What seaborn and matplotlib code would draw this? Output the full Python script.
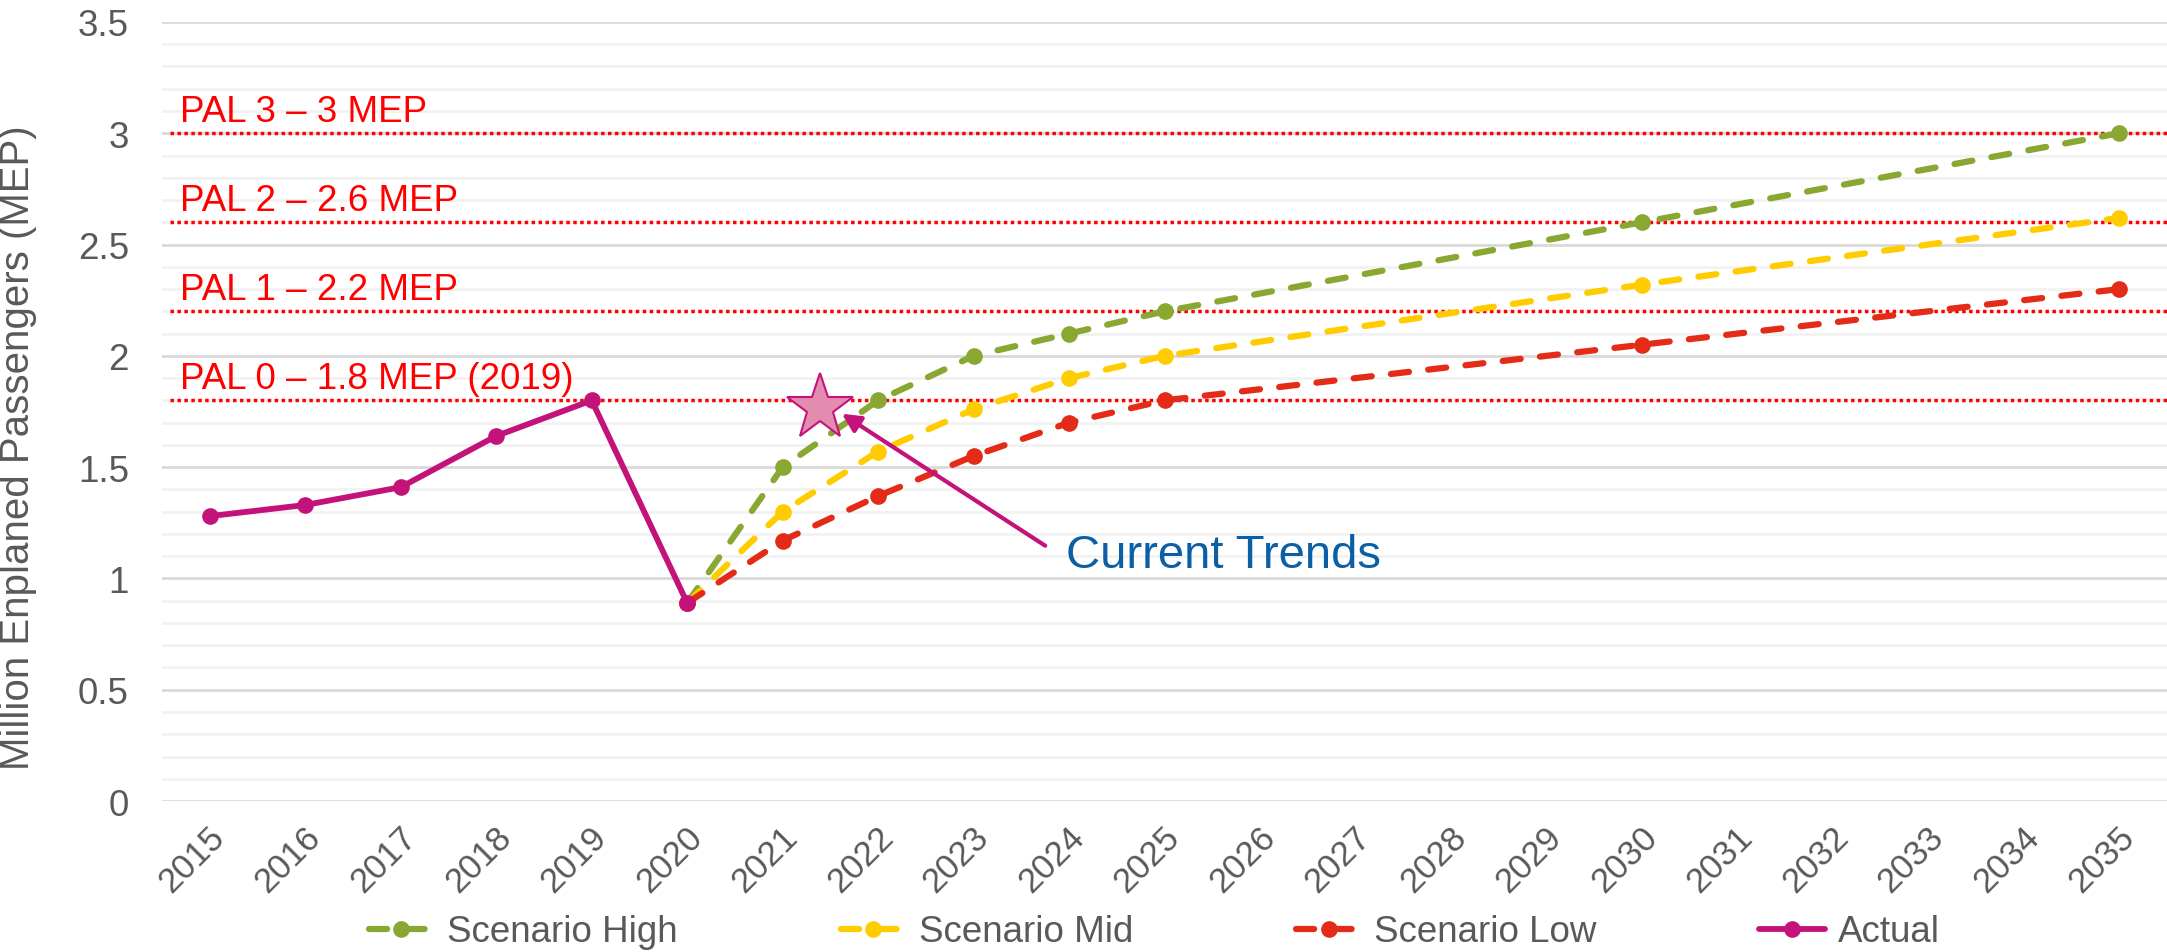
import matplotlib
matplotlib.use("Agg")
import matplotlib.pyplot as plt
import matplotlib.transforms as mtransforms
from matplotlib.ticker import MultipleLocator
import pandas as pd
import seaborn as sns

# ---- data -------------------------------------------------------------
years_actual = [2015, 2016, 2017, 2018, 2019, 2020]
actual = [1.28, 1.33, 1.41, 1.64, 1.80, 0.89]

years_scenario = [2020, 2021, 2022, 2023, 2024, 2025, 2030, 2035]
scenario_high = [0.89, 1.50, 1.80, 2.00, 2.10, 2.20, 2.60, 3.00]
scenario_mid = [0.89, 1.30, 1.57, 1.76, 1.90, 2.00, 2.32, 2.62]
scenario_low = [0.89, 1.17, 1.37, 1.55, 1.70, 1.80, 2.05, 2.30]

tick_years = list(range(2015, 2036))
tick_labels = [str(y) for y in tick_years]
y_ticks = [0, 0.5, 1, 1.5, 2, 2.5, 3, 3.5]
y_tick_labels = ["0", "0.5", "1", "1.5", "2", "2.5", "3", "3.5"]

pal_values = [1.8, 2.2, 2.6, 3.0]
pal_labels = ["PAL 0 \u2013 1.8 MEP (2019)", "PAL 1 \u2013 2.2 MEP",
              "PAL 2 \u2013 2.6 MEP", "PAL 3 \u2013 3 MEP"]

current_trend_point = (2021.39, 1.767)

series_names = ["Scenario High", "Scenario Mid", "Scenario Low", "Actual"]
series_colors = ["#88A832", "#FFCC00", "#E32B17", "#C3137A"]

# ---- style ------------------------------------------------------------
sns.set_style("white")
plt.rcParams["font.family"] = ["Liberation Sans", "DejaVu Sans"]
text_color = "#595959"

frames = []
for name, xs, ys in [
    ("Scenario High", years_scenario, scenario_high),
    ("Scenario Mid", years_scenario, scenario_mid),
    ("Scenario Low", years_scenario, scenario_low),
    ("Actual", years_actual, actual),
]:
    frames.append(pd.DataFrame({"year": xs, "mep": ys, "series": name}))
df = pd.concat(frames, ignore_index=True)

fig = plt.figure(figsize=(21.67, 9.53), dpi=100)
ax = fig.add_axes([0.0748, 0.1584, 0.9252, 0.8175])

for name, color in zip(series_names, series_colors):
    sub = df[df["series"] == name]
    dashed = name != "Actual"
    sns.lineplot(
        data=sub, x="year", y="mep", ax=ax, color=color,
        marker="o", markersize=12, markeredgewidth=0,
        linewidth=4.5 if dashed else 4.2,
        linestyle=(0, (2.9, 3.1)) if dashed else "-",
        label=name, zorder=4 if dashed else 5,
    )

for line in ax.get_lines():
    line.set_dash_capstyle("round")
    line.set_solid_capstyle("round")

# planning activity level reference lines
ax.hlines(pal_values, 2014.58, 2035.5, colors="#FF0000",
          linestyles=(0, (1, 1)), linewidth=2.5, zorder=3)
for val, lab in zip(pal_values, pal_labels):
    ax.annotate(lab, xy=(2014.69, val), xytext=(0, 9),
                textcoords="offset points", ha="left", va="baseline",
                fontsize=26.5, color="#FF0000", zorder=6)

# current trend marker and callout
ax.plot(*current_trend_point, marker="*", markersize=50,
        markerfacecolor="#E38CB0", markeredgecolor="#C3137A",
        markeredgewidth=1.5, zorder=7, linestyle="none")
ax.annotate("", xy=(2021.62, 1.740), xytext=(2023.75, 1.147),
            arrowprops=dict(arrowstyle="-|>,head_length=1.1,head_width=0.55",
                            color="#C3137A", lw=3.0, shrinkA=0, shrinkB=0),
            zorder=7)
ax.text(2023.97, 1.052, "Current Trends", fontsize=34, color="#0B5FA5",
        ha="left", va="baseline", zorder=7)

# axes
ax.set_xlim(2014.5, 2035.5)
ax.set_ylim(0, 3.5)
ax.set_xticks(tick_years)
ax.set_xticklabels(tick_labels)
ax.set_yticks(y_ticks)
ax.set_yticklabels(y_tick_labels)
ax.yaxis.set_minor_locator(MultipleLocator(0.1))
ax.grid(which="major", axis="y", color="#D9D9D9", linewidth=2.0, zorder=0)
ax.grid(which="minor", axis="y", color="#F2F2F2", linewidth=2.0, zorder=0)
ax.grid(which="major", axis="x", visible=False)
ax.tick_params(axis="both", which="both", length=0)
ax.tick_params(axis="y", labelsize=26.5, labelcolor=text_color, pad=24)
ax.tick_params(axis="x", labelsize=25, labelcolor=text_color, pad=22)
shift = mtransforms.ScaledTranslation(10 / 100, 0, fig.dpi_scale_trans)
for lab in ax.get_xticklabels():
    lab.set_rotation(45)
    lab.set_ha("right")
    lab.set_va("center")
    lab.set_rotation_mode("anchor")
    lab.set_transform(lab.get_transform() + shift)
for s in ax.spines.values():
    s.set_visible(False)

ax.set_xlabel("")
ax.set_ylabel("Million Enplaned Passengers (MEP)", fontsize=29, color=text_color)
ax.yaxis.set_label_coords(-0.0623, 0.455)

handles, labels = ax.get_legend_handles_labels()
ax.legend(handles, labels, loc="center", bbox_to_anchor=(0.5326, 0.021),
          bbox_transform=fig.transFigure, ncol=4, frameon=False,
          fontsize=26.5, labelcolor=text_color, handlelength=1.77,
          handletextpad=0.35, columnspacing=4.43, borderaxespad=0)

fig.savefig("out.png", dpi=100)
